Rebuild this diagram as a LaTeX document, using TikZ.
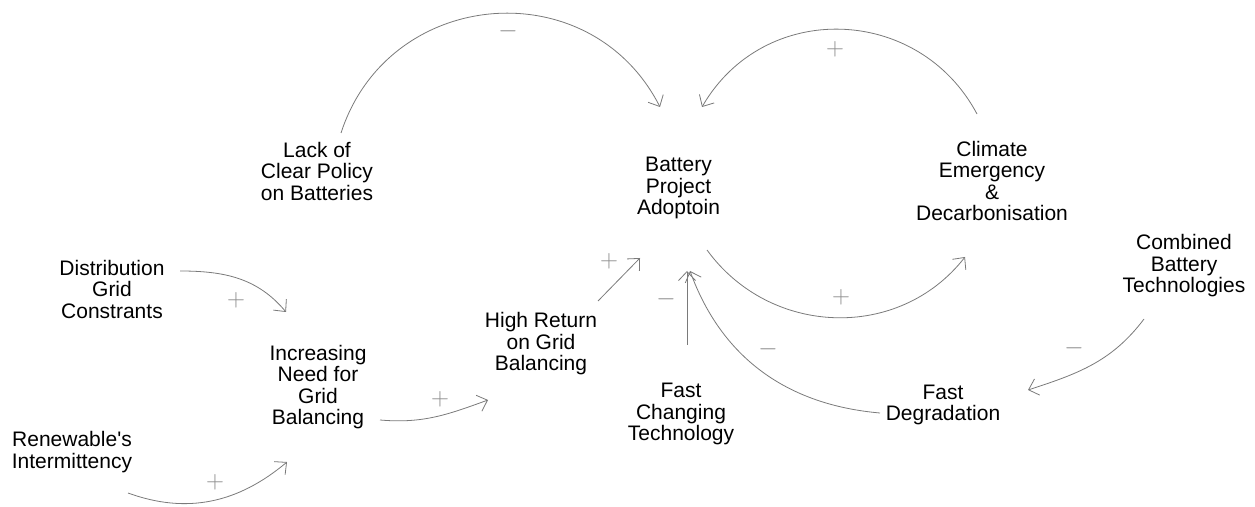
\documentclass[tikz,border=0pt]{standalone}
\usepackage{fontspec}
\setmainfont{Liberation Sans}
\usetikzlibrary{arrows.meta}

\definecolor{linkgray}{HTML}{7A7A7A}
\definecolor{signgray}{HTML}{8C8C8C}

\begin{document}
\begin{tikzpicture}[x=1pt,y=1pt,>={Straight Barb[length=9pt,width=17pt]},
    box/.style={align=center,inner sep=0pt,font=\fontsize{21}{21.5}\selectfont},
    sign/.style={inner sep=0pt,text=signgray,font=\fontsize{24}{24}\selectfont},
    link/.style={->,draw=linkgray,line width=0.8pt}]

                        \useasboundingbox (0,0) rectangle (1255,506);

                        % variables
                        \node[box] (policy) at (317,335) {Lack of\\Clear Policy\\on Batteries};
                        \node[box] (adoption) at (678.5,318) {Battery\\Project\\Adoptoin};
                        \node[box] (climate) at (992,325) {Climate\\Emergency\\\&\\Decarbonisation};
                        \node[box] (combined) at (1184,240) {Combined\\Battery\\Technologies};
                        \node[box] (distribution) at (112,217) {Distribution\\Grid\\Constrants};
                        \node[box] (increasing) at (318,119) {Increasing\\Need for\\Grid\\Balancing};
                        \node[box] (highreturn) at (541,162) {High Return\\on Grid\\Balancing};
                        \node[box] (fastchange) at (681,92) {Fast\\Changing\\Technology};
                        \node[box] (degradation) at (943,101) {Fast\\Degradation};
                        \node[box] (renewable) at (72,54) {Renewable\textquotesingle s\\Intermittency};

                        % causal links
                        \draw[link] ([shift={(24,38)}]policy.center) to[out=72,in=117,looseness=1.23] ([shift={(-18.5,81)}]adoption.center);
                        \draw[link] ([shift={(-15,67)}]climate.center) to[out=118,in=60,looseness=1.15] ([shift={(23.5,81)}]adoption.center);
                        \draw[link] ([shift={(28.5,-62)}]adoption.center) to[out=-54,in=-128,looseness=1.06] ([shift={(-27,-76)}]climate.center);
                        \draw[link] ([shift={(57,43)}]highreturn.center) -- ([shift={(-38.5,-70)}]adoption.center);
                        \draw[link] ([shift={(6,69)}]fastchange.center) -- ([shift={(8.5,-83)}]adoption.center);
                        \draw[link] ([shift={(-63,-8)}]degradation.center) to[out=175,in=-70] ([shift={(11.5,-83)}]adoption.center);
                        \draw[link] ([shift={(-40,-53)}]combined.center) to[out=-127,in=18] ([shift={(85,15)}]degradation.center);
                        \draw[link] ([shift={(68,18)}]distribution.center) to[out=0,in=130] ([shift={(-32,75)}]increasing.center);
                        \draw[link] ([shift={(56,-41)}]renewable.center) to[out=-20,in=-140] ([shift={(-31,-75)}]increasing.center);
                        \draw[link] ([shift={(62,-33)}]increasing.center) to[out=-5,in=200] ([shift={(-53,-56)}]highreturn.center);

                        % polarities
                        \node[sign] (s1) at (508,475) {$-$};
                        \node[sign] (s2) at (835,457) {$+$};
                        \node[sign] (s3) at (841,209) {$+$};
                        \node[sign] (s4) at (609,245) {$+$};
                        \node[sign] (s5) at (666,207) {$-$};
                        \node[sign] (s6) at (768,157) {$-$};
                        \node[sign] (s7) at (1074,158) {$-$};
                        \node[sign] (s8) at (236,206) {$+$};
                        \node[sign] (s9) at (215,24) {$+$};
                        \node[sign] (s10) at (440,107) {$+$};
                    \end{tikzpicture}
\end{document}
